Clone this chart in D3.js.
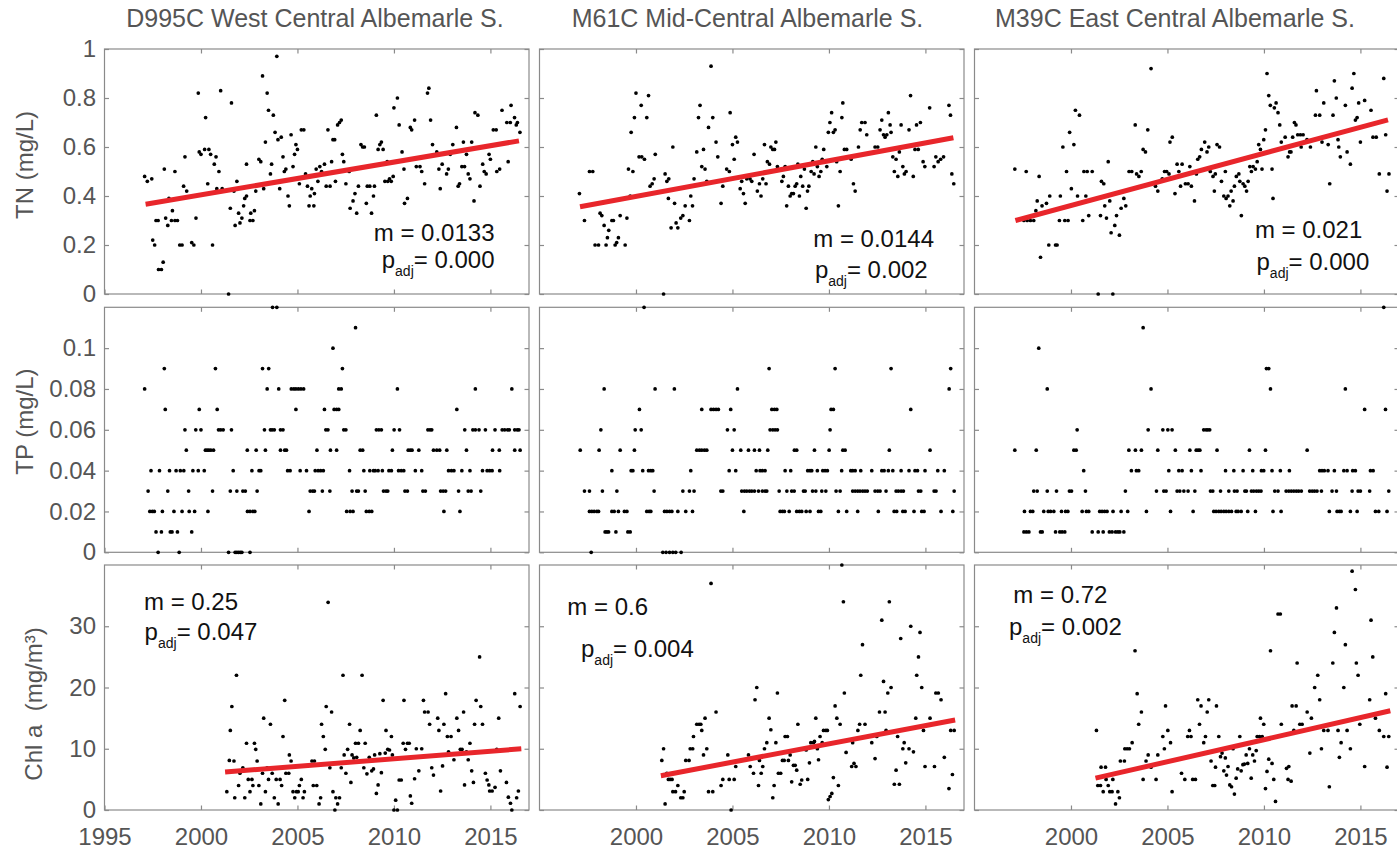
<!DOCTYPE html>
<html>
<head>
<meta charset="utf-8">
<script src="https://cdn.jsdelivr.net/npm/d3@7"></script>
<style>
body { margin: 0; background: #fff; }
text { font-family: "Liberation Sans", Arial, sans-serif; }
</style>
</head>
<body>
<svg id="chart" width="1397" height="849"></svg>
<script>
// stations (columns) and variables (rows)
var stations = ["D995C West Central Albemarle S.", "M61C Mid-Central Albemarle S.", "M39C East Central Albemarle S."];
var variables = ["TN (mg/L)", "TP (mg/L)", "Chl a  (mg/m\u00b3)"];

// tick values
var xTicks = [1995, 2000, 2005, 2010, 2015];
var tnTicks = [0, 0.2, 0.4, 0.6, 0.8, 1];
var tpTicks = [0, 0.02, 0.04, 0.06, 0.08, 0.1];
var chlTicks = [0, 10, 20, 30];

// TN samples [year, mg/L]
var tnD995C = [[1997.08,0.48],[1997.22,0.46],[1997.45,0.47],[1997.5,0.22],[1997.6,0.20],[1997.67,0.30],[1997.78,0.30],[1997.8,0.10],[1997.95,0.10],[1998.04,0.13],[1998.1,0.51],[1998.17,0.31],[1998.28,0.28],[1998.34,0.39],[1998.47,0.30],[1998.52,0.34],[1998.65,0.30],[1998.78,0.30],[1998.65,0.50],[1998.9,0.20],[1999.02,0.20],[1999.1,0.44],[1999.17,0.56],[1999.26,0.42],[1999.52,0.21],[1999.63,0.20],[1999.74,0.31],[1999.86,0.82],[1999.91,0.58],[2000.0,0.57],[2000.19,0.59],[2000.24,0.72],[2000.35,0.45],[2000.41,0.59],[2000.5,0.57],[2000.6,0.20],[2000.69,0.53],[2000.78,0.56],[2000.82,0.43],[2000.93,0.50],[2001.02,0.83],[2001.1,0.43],[2001.43,0.00],[2001.52,0.35],[2001.58,0.78],[2001.71,0.42],[2001.77,0.28],[2001.86,0.46],[2001.95,0.33],[2002.02,0.29],[2002.12,0.31],[2002.21,0.36],[2002.27,0.39],[2002.36,0.40],[2002.36,0.53],[2002.54,0.30],[2002.69,0.30],[2002.58,0.33],[2002.77,0.34],[2002.84,0.42],[2003.0,0.55],[2003.1,0.54],[2003.19,0.89],[2003.25,0.43],[2003.34,0.62],[2003.43,0.82],[2003.5,0.75],[2003.6,0.49],[2003.66,0.53],[2003.75,0.73],[2003.84,0.66],[2003.93,0.97],[2003.99,0.63],[2004.08,0.43],[2004.16,0.64],[2004.25,0.56],[2004.32,0.50],[2004.4,0.51],[2004.51,0.40],[2004.58,0.36],[2004.67,0.65],[2004.77,0.52],[2004.85,0.57],[2004.92,0.61],[2005.0,0.59],[2005.1,0.45],[2005.2,0.67],[2005.33,0.67],[2005.42,0.49],[2005.52,0.44],[2005.6,0.36],[2005.85,0.36],[2005.66,0.40],[2005.74,0.43],[2005.88,0.41],[2005.97,0.51],[2006.06,0.46],[2006.16,0.52],[2006.25,0.50],[2006.4,0.53],[2006.49,0.44],[2006.69,0.44],[2006.58,0.67],[2006.77,0.54],[2006.84,0.63],[2006.93,0.63],[2006.97,0.46],[2007.08,0.69],[2007.18,0.70],[2007.27,0.71],[2007.33,0.57],[2007.4,0.54],[2007.51,0.45],[2007.68,0.50],[2007.73,0.35],[2007.88,0.38],[2007.98,0.41],[2008.07,0.33],[2008.16,0.44],[2008.29,0.61],[2008.38,0.60],[2008.47,0.60],[2008.57,0.37],[2008.62,0.44],[2008.75,0.44],[2008.84,0.33],[2008.94,0.40],[2008.99,0.44],[2009.09,0.73],[2009.18,0.59],[2009.27,0.61],[2009.35,0.62],[2009.44,0.59],[2009.53,0.46],[2009.68,0.46],[2009.65,0.54],[2009.77,0.47],[2009.86,0.46],[2009.96,0.48],[2010.0,0.76],[2010.18,0.80],[2010.27,0.69],[2010.42,0.58],[2010.52,0.51],[2010.55,0.37],[2010.7,0.39],[2010.85,0.68],[2010.92,0.67],[2011.07,0.71],[2011.16,0.52],[2011.35,0.52],[2011.44,0.50],[2011.59,0.45],[2011.74,0.82],[2011.81,0.84],[2011.9,0.71],[2012.0,0.61],[2012.22,0.58],[2012.33,0.51],[2012.4,0.43],[2012.5,0.53],[2012.73,0.49],[2012.82,0.51],[2012.92,0.57],[2013.05,0.61],[2013.24,0.68],[2013.33,0.44],[2013.4,0.45],[2013.52,0.52],[2013.6,0.62],[2013.66,0.52],[2013.76,0.57],[2013.85,0.49],[2013.94,0.47],[2014.03,0.62],[2014.15,0.38],[2014.2,0.74],[2014.35,0.73],[2014.46,0.44],[2014.6,0.53],[2014.68,0.50],[2014.78,0.49],[2014.93,0.57],[2015.0,0.55],[2015.15,0.67],[2015.3,0.67],[2015.33,0.50],[2015.48,0.51],[2015.6,0.75],[2015.92,0.54],[2015.85,0.70],[2016.03,0.70],[2016.07,0.77],[2016.25,0.72],[2016.34,0.69],[2016.4,0.70],[2016.53,0.66]];

var tnM61C = [[1997.07,0.41],[1997.33,0.30],[1997.59,0.50],[1997.76,0.50],[1997.88,0.20],[1998.06,0.20],[1998.14,0.33],[1998.23,0.32],[1998.35,0.28],[1998.45,0.20],[1998.52,0.23],[1998.59,0.26],[1998.75,0.30],[1998.83,0.30],[1998.92,0.20],[1999.0,0.21],[1999.09,0.23],[1999.18,0.32],[1999.44,0.20],[1999.53,0.31],[1999.61,0.51],[1999.84,0.50],[1999.7,0.40],[1999.75,0.66],[1999.92,0.72],[2000.0,0.82],[2000.16,0.56],[2000.3,0.56],[2000.44,0.55],[2000.27,0.77],[2000.56,0.72],[2000.65,0.81],[2000.73,0.44],[2000.84,0.45],[2000.94,0.47],[2001.0,0.57],[2001.43,0.00],[2001.51,0.49],[2001.6,0.46],[2001.7,0.47],[2001.68,0.39],[2001.82,0.27],[2001.91,0.60],[2002.0,0.37],[2002.08,0.29],[2002.17,0.27],[2002.32,0.31],[2002.43,0.32],[2002.55,0.36],[2002.77,0.30],[2002.84,0.40],[2002.93,0.36],[2003.01,0.47],[2003.15,0.58],[2003.24,0.72],[2003.32,0.77],[2003.41,0.52],[2003.58,0.51],[2003.5,0.59],[2003.67,0.46],[2003.76,0.68],[2003.89,0.93],[2003.98,0.72],[2004.15,0.62],[2004.24,0.56],[2004.41,0.37],[2004.5,0.44],[2004.7,0.51],[2004.84,0.50],[2004.88,0.74],[2005.0,0.61],[2005.09,0.55],[2005.17,0.64],[2005.26,0.62],[2005.4,0.43],[2005.48,0.46],[2005.57,0.41],[2005.66,0.37],[2005.74,0.47],[2005.91,0.47],[2006.0,0.46],[2006.12,0.57],[2006.29,0.42],[2006.4,0.45],[2006.48,0.40],[2006.57,0.47],[2006.66,0.61],[2006.74,0.45],[2006.81,0.54],[2006.92,0.53],[2006.99,0.60],[2007.09,0.59],[2007.18,0.59],[2007.25,0.62],[2007.33,0.52],[2007.56,0.46],[2007.64,0.48],[2007.73,0.52],[2007.81,0.36],[2007.9,0.44],[2007.99,0.40],[2008.07,0.41],[2008.16,0.41],[2008.25,0.44],[2008.33,0.45],[2008.39,0.53],[2008.47,0.40],[2008.54,0.48],[2008.64,0.44],[2008.73,0.51],[2008.82,0.35],[2008.89,0.42],[2008.96,0.44],[2009.08,0.50],[2009.16,0.54],[2009.23,0.49],[2009.32,0.60],[2009.4,0.52],[2009.49,0.48],[2009.58,0.50],[2009.65,0.55],[2009.73,0.59],[2009.89,0.52],[2009.97,0.66],[2010.05,0.70],[2010.14,0.74],[2010.23,0.66],[2010.32,0.67],[2010.4,0.54],[2010.49,0.36],[2010.58,0.50],[2010.67,0.72],[2010.72,0.78],[2010.8,0.59],[2010.92,0.59],[2011.15,0.55],[2011.27,0.45],[2011.36,0.42],[2011.53,0.60],[2011.62,0.67],[2011.7,0.70],[2011.87,0.70],[2011.96,0.65],[2012.39,0.60],[2012.53,0.60],[2012.65,0.67],[2012.74,0.71],[2012.83,0.65],[2012.91,0.64],[2013.0,0.65],[2013.08,0.74],[2013.17,0.69],[2013.22,0.66],[2013.31,0.56],[2013.39,0.50],[2013.48,0.55],[2013.57,0.48],[2013.65,0.58],[2013.74,0.69],[2013.83,0.52],[2013.91,0.49],[2014.0,0.50],[2014.15,0.67],[2014.23,0.81],[2014.37,0.48],[2014.46,0.59],[2014.63,0.59],[2014.54,0.69],[2014.74,0.70],[2014.88,0.54],[2014.97,0.52],[2015.22,0.76],[2015.45,0.52],[2015.54,0.56],[2015.66,0.54],[2015.79,0.55],[2015.94,0.56],[2016.22,0.77],[2016.3,0.73],[2016.37,0.49],[2016.47,0.45]];

var tnM39C = [[1997.09,0.51],[1997.68,0.50],[1997.56,0.30],[1997.73,0.30],[1997.9,0.30],[1998.07,0.30],[1998.18,0.34],[1998.25,0.38],[1998.35,0.48],[1998.42,0.15],[1998.5,0.36],[1998.73,0.37],[1998.85,0.20],[1999.2,0.20],[1999.28,0.20],[1998.9,0.40],[1999.4,0.30],[1999.45,0.40],[1999.58,0.60],[1999.68,0.30],[1999.85,0.30],[1999.77,0.50],[1999.93,0.66],[2000.02,0.43],[2000.15,0.61],[2000.23,0.75],[2000.34,0.40],[2000.44,0.73],[2000.61,0.30],[2000.67,0.50],[2000.84,0.50],[2001.1,0.50],[2000.77,0.40],[2000.92,0.32],[2001.53,0.32],[2001.58,0.46],[2001.7,0.45],[2001.75,0.36],[2001.84,0.31],[2001.93,0.54],[2002.01,0.38],[2002.08,0.25],[2002.27,0.28],[2002.36,0.32],[2002.51,0.24],[2002.6,0.35],[2002.74,0.39],[2002.84,0.36],[2003.01,0.50],[2003.15,0.50],[2003.33,0.69],[2003.4,0.49],[2003.52,0.48],[2003.64,0.50],[2001.41,0.0],[2002.17,0.0],[2003.74,0.59],[2003.86,0.58],[2003.98,0.67],[2004.15,0.92],[2004.38,0.44],[2004.5,0.42],[2004.73,0.47],[2004.85,0.50],[2004.96,0.50],[2005.08,0.49],[2005.13,0.62],[2005.25,0.64],[2005.39,0.41],[2005.5,0.53],[2005.76,0.53],[2005.59,0.50],[2005.68,0.44],[2005.93,0.45],[2006.07,0.45],[2006.16,0.52],[2006.24,0.44],[2006.4,0.38],[2006.5,0.49],[2006.57,0.55],[2006.67,0.56],[2006.76,0.59],[2006.93,0.62],[2007.05,0.58],[2007.14,0.60],[2007.22,0.50],[2007.36,0.48],[2007.43,0.42],[2007.48,0.49],[2007.57,0.61],[2007.7,0.60],[2007.8,0.46],[2007.92,0.40],[2008.0,0.50],[2008.04,0.39],[2008.14,0.40],[2008.23,0.36],[2008.3,0.42],[2008.4,0.38],[2008.47,0.44],[2008.57,0.48],[2008.7,0.49],[2008.75,0.46],[2008.83,0.32],[2008.92,0.45],[2009.01,0.44],[2009.1,0.42],[2009.18,0.46],[2009.27,0.52],[2009.35,0.50],[2009.44,0.52],[2009.56,0.51],[2009.65,0.54],[2009.73,0.61],[2009.82,0.59],[2009.9,0.51],[2009.99,0.63],[2010.08,0.67],[2010.16,0.90],[2010.25,0.81],[2010.33,0.77],[2010.42,0.51],[2010.47,0.39],[2010.54,0.76],[2010.63,0.78],[2010.73,0.74],[2010.82,0.69],[2010.9,0.62],[2011.1,0.64],[2011.25,0.56],[2011.33,0.58],[2011.4,0.58],[2011.49,0.64],[2011.58,0.70],[2011.66,0.69],[2011.75,0.65],[2011.89,0.65],[2012.03,0.65],[2011.93,0.60],[2012.23,0.63],[2012.41,0.60],[2012.72,0.83],[2012.67,0.73],[2012.89,0.73],[2013.01,0.62],[2013.1,0.78],[2013.33,0.61],[2013.41,0.45],[2013.58,0.73],[2013.65,0.87],[2013.75,0.80],[2013.84,0.63],[2013.88,0.60],[2013.96,0.56],[2014.22,0.77],[2014.31,0.58],[2014.48,0.53],[2014.57,0.84],[2014.66,0.90],[2014.74,0.71],[2014.83,0.72],[2014.91,0.78],[2015.0,0.62],[2015.22,0.79],[2015.55,0.75],[2015.65,0.64],[2015.82,0.64],[2015.98,0.49],[2016.21,0.88],[2016.31,0.65],[2016.38,0.42],[2016.48,0.49]];

// TP samples [mg/L level, [years]]
var tpD995C = [
  [0.12, [2003.71,2003.93]],
  [0.11, [2008.01]],
  [0.10, [2006.84]],
  [0.09, [1998.10,2000.75,2003.19,2003.51,2007.33]],
  [0.08, [1997.08,2003.43,2004.03,2004.68,2004.81,2004.92,2005.05,2005.18,2005.32,2007.14,2007.27,2010.18,2014.22,2016.11]],
  [0.07, [1998.15,1999.91,2000.84,2004.92,2006.40,2006.90,2007.03,2007.14,2013.26]],
  [0.06, [1999.17,1999.73,2000.00,2000.91,2001.02,2001.15,2001.58,2003.29,2003.60,2003.69,2003.80,2004.12,2004.25,2006.47,2006.58,2007.40,2007.51,2009.09,2009.22,2009.35,2010.01,2010.29,2011.76,2011.87,2011.96,2013.67,2014.09,2014.22,2014.41,2014.74,2015.24,2015.61,2015.74,2015.89,2015.98,2016.26,2016.39,2016.48]],
  [0.05, [1999.24,2000.23,2000.32,2000.41,2000.51,2000.65,2002.40,2002.86,2003.34,2004.12,2004.34,2004.43,2006.01,2006.71,2007.03,2008.25,2008.38,2009.92,2010.74,2010.85,2010.94,2011.29,2012.05,2012.22,2012.37,2012.74,2013.76,2015.11,2015.46,2016.26,2016.54]],
  [0.04, [1997.41,1997.85,1998.37,1998.71,1998.93,1999.11,1999.58,1999.86,2000.17,2001.67,2002.64,2003.01,2003.10,2004.49,2004.62,2005.14,2005.47,2005.92,2006.07,2006.20,2006.34,2007.70,2008.44,2008.75,2008.94,2009.03,2009.18,2009.40,2009.74,2009.87,2010.24,2010.38,2010.51,2011.11,2011.44,2012.83,2012.98,2013.11,2013.52,2013.94,2014.59,2014.83,2014.96,2015.09,2015.48]],
  [0.03, [1997.26,1998.28,1999.36,2000.60,2001.52,2001.86,2002.17,2002.30,2002.91,2005.66,2005.79,2005.88,2006.29,2006.68,2007.83,2008.07,2008.16,2008.51,2009.46,2009.59,2009.68,2010.57,2010.70,2011.50,2011.63,2012.42,2012.55,2012.68,2013.35,2013.85,2014.00,2014.50]],
  [0.02, [1997.35,1997.48,1997.58,1998.00,1998.60,1999.02,1999.39,1999.67,2000.36,2002.41,2002.54,2002.69,2002.79,2005.60,2007.55,2007.73,2007.88,2008.57,2008.72,2008.85,2012.59,2013.42]],
  [0.01, [1997.67,1997.95,1998.41,1998.50,1998.78,1999.52]],
  [0, [1997.78,1998.87,2001.43,2001.77,2001.86,2001.95,2002.04,2002.12,2002.54]]
];

var tpM61C = [
  [0.12, [2000.42]],
  [0.09, [2006.90,2010.32,2013.22,2016.31]],
  [0.08, [1998.35,2000.99,2001.99,2005.26,2016.23]],
  [0.07, [2000.18,2003.41,2003.89,2004.02,2004.15,2004.27,2004.91,2007.04,2007.18,2007.30,2010.11,2010.23,2014.24]],
  [0.06, [1998.18,1999.96,2000.27,2004.74,2005.09,2006.95,2007.09,2007.21,2007.33,2010.06]],
  [0.05, [1997.11,1998.09,1999.18,1999.92,2003.15,2003.29,2003.41,2003.55,2003.67,2005.00,2005.43,2005.83,2006.14,2006.40,2006.83,2008.21,2008.33,2009.25,2010.01,2010.72,2010.84,2013.13,2015.24]],
  [0.04, [1998.75,1999.75,1999.84,2000.35,2000.65,2000.77,2000.87,2002.84,2004.83,2005.17,2006.23,2006.43,2006.55,2006.69,2007.73,2008.02,2008.90,2009.02,2009.11,2009.40,2009.68,2009.80,2009.92,2010.66,2011.13,2011.23,2011.36,2011.65,2012.22,2012.74,2012.86,2013.08,2013.31,2013.74,2014.15,2014.46,2014.59,2014.98,2015.64,2015.98]],
  [0.03, [1997.33,1997.59,1998.26,1999.01,2000.94,2002.43,2002.77,2003.01,2004.40,2004.50,2005.48,2005.62,2005.74,2005.88,2006.00,2006.14,2006.35,2006.55,2006.69,2006.78,2007.42,2007.82,2008.07,2008.20,2008.68,2008.77,2009.15,2009.32,2009.63,2009.84,2010.37,2010.58,2011.23,2011.36,2011.49,2011.61,2011.75,2011.87,2011.99,2012.39,2012.53,2012.65,2012.96,2013.48,2013.60,2013.74,2013.86,2014.64,2014.76,2015.45,2015.55,2016.49]],
  [0.02, [1997.59,1997.71,1997.83,1997.97,1998.06,1998.75,1998.87,1999.09,1999.40,1999.53,2000.56,2000.68,2000.77,2001.48,2001.60,2001.74,2001.86,2002.17,2002.58,2002.93,2005.59,2007.47,2007.59,2007.69,2007.94,2008.33,2008.47,2008.59,2008.82,2009.02,2009.46,2009.58,2010.49,2010.92,2011.49,2012.56,2013.38,2013.51,2013.83,2013.95,2014.41,2014.81,2014.93,2015.81,2016.42]],
  [0.01, [1998.40,1998.49,1998.58,1998.96,1999.58,1999.70]],
  [0, [1997.68,2001.39,2001.56,2001.74,2001.91,2002.06,2002.34]]
];

var tpM39C = [
  [0.12, [2016.21]],
  [0.11, [2003.74]],
  [0.10, [1998.33]],
  [0.09, [2010.13,2010.25]],
  [0.08, [1998.77,2004.15,2010.34,2014.22]],
  [0.07, [2015.22,2016.30]],
  [0.06, [2000.32,2004.00,2004.76,2005.02,2005.24,2006.88,2007.00,2007.09,2007.19]],
  [0.05, [1997.09,1998.20,2000.15,2000.27,2003.00,2003.34,2003.65,2004.50,2005.41,2006.16,2006.49,2006.59,2006.68,2007.57,2009.25,2010.08,2012.24]],
  [0.04, [2000.66,2003.13,2003.39,2003.51,2005.07,2005.59,2005.76,2006.24,2006.74,2008.01,2008.44,2008.92,2009.42,2009.87,2009.99,2010.42,2010.85,2011.32,2012.89,2013.01,2013.13,2013.32,2013.65,2014.14,2014.31,2014.60,2014.74,2015.52,2015.66]],
  [0.03, [1998.07,1998.25,1998.77,1999.25,1999.92,2000.03,2000.75,2002.82,2004.43,2004.81,2004.93,2005.50,2005.64,2005.85,2006.07,2006.42,2007.23,2007.35,2007.75,2008.18,2008.47,2008.61,2009.01,2009.09,2009.35,2009.47,2009.61,2009.73,2009.85,2010.56,2010.73,2011.15,2011.29,2011.42,2011.55,2011.68,2011.80,2011.94,2012.37,2012.50,2012.62,2012.75,2012.98,2013.53,2013.76,2014.57,2014.88,2015.00,2015.48,2016.47]],
  [0.02, [1997.59,1997.90,1998.02,1998.59,1998.82,1998.94,1999.11,1999.51,1999.72,1999.84,2000.58,2000.80,2000.92,2001.49,2001.61,2001.74,2001.87,2002.18,2002.60,2002.94,2003.91,2005.16,2006.33,2007.40,2007.52,2007.66,2007.78,2007.92,2008.04,2008.18,2008.32,2008.56,2008.66,2008.82,2009.16,2009.56,2010.47,2010.89,2013.39,2013.79,2013.91,2014.00,2014.48,2014.83,2015.78,2015.95,2016.38]],
  [0.01, [1997.56,1997.69,1997.82,1998.42,1998.51,1999.20,1999.42,1999.54,1999.68,2001.10,2001.41,2001.67,2001.99,2002.13,2002.31,2002.43,2002.53,2002.74]]
];

// Chl a samples [year, mg/m3]
var chlD995C = [[2001.34,3.0],[2001.47,8.1],[2001.71,8.0],[2001.52,13.0],[2001.6,16.9],[2001.75,2.0],[2001.84,22.0],[2001.95,4.0],[2002.02,6.0],[2002.17,6.9],[2002.27,2.0],[2002.36,10.9],[2002.45,5.0],[2002.64,5.0],[2002.54,3.0],[2002.69,4.0],[2002.77,10.9],[2002.84,9.9],[2002.91,8.0],[2003.0,4.0],[2003.1,1.0],[2003.19,6.0],[2003.25,15.0],[2003.34,3.0],[2003.43,6.9],[2003.5,5.0],[2003.6,14.0],[2003.69,6.0],[2003.8,2.0],[2003.9,5.0],[2004.1,5.0],[2004.0,1.0],[2004.18,4.0],[2004.25,12.0],[2004.34,17.9],[2004.4,6.0],[2004.55,6.0],[2004.58,9.0],[2004.67,8.0],[2004.77,3.0],[2004.95,3.0],[2005.04,3.0],[2004.86,2.0],[2005.1,4.0],[2005.2,5.0],[2005.29,2.0],[2005.36,3.0],[2005.75,8.0],[2005.88,8.0],[2005.82,4.0],[2006.0,4.0],[2006.12,1.0],[2006.2,2.0],[2006.25,14.0],[2006.34,12.0],[2006.44,9.9],[2006.49,16.9],[2006.59,33.9],[2006.68,6.9],[2006.77,16.0],[2006.84,3.0],[2006.94,0.0],[2006.99,2.0],[2007.18,2.0],[2007.08,1.0],[2007.27,6.9],[2007.36,22.0],[2007.42,9.0],[2007.51,6.0],[2007.6,9.9],[2007.7,14.0],[2007.77,4.5],[2007.83,9.0],[2007.92,8.5],[2008.01,10.9],[2008.16,10.9],[2008.07,8.6],[2008.25,13.0],[2008.35,22.0],[2008.44,6.9],[2008.51,10.9],[2008.6,5.9],[2008.72,8.6],[2008.85,6.4],[2008.94,6.7],[2009.0,9.0],[2009.09,2.7],[2009.18,4.1],[2009.27,9.2],[2009.35,6.1],[2009.44,17.9],[2009.55,9.3],[2009.59,13.0],[2009.68,9.9],[2009.77,9.8],[2009.87,12.0],[2009.92,9.0],[2010.0,0.0],[2010.18,0.0],[2010.09,1.6],[2010.27,4.9],[2010.38,4.9],[2010.48,10.9],[2010.52,17.9],[2010.6,9.9],[2010.7,10.9],[2010.79,10.9],[2010.85,2.3],[2010.92,1.1],[2011.07,5.1],[2011.16,10.0],[2011.44,10.0],[2011.29,6.4],[2011.53,17.9],[2011.59,16.0],[2011.77,16.0],[2011.85,14.0],[2011.96,6.9],[2012.05,5.7],[2012.27,15.0],[2012.33,13.0],[2012.42,3.1],[2012.52,7.2],[2012.59,14.0],[2012.68,19.0],[2012.77,12.0],[2012.96,12.0],[2012.83,9.5],[2013.11,8.2],[2013.26,15.0],[2013.35,13.0],[2013.44,9.9],[2013.53,9.9],[2013.61,16.0],[2013.66,4.1],[2013.76,9.5],[2013.85,8.2],[2013.94,10.9],[2014.03,6.4],[2014.12,4.5],[2014.18,14.0],[2014.26,17.9],[2014.44,25.0],[2014.5,16.9],[2014.59,14.0],[2014.74,6.0],[2014.83,4.9],[2014.92,4.1],[2014.96,3.1],[2015.09,3.1],[2015.24,3.7],[2015.33,9.9],[2015.43,15.0],[2015.52,6.4],[2015.83,4.5],[2015.93,2.1],[2016.04,1.1],[2016.11,0.0],[2016.26,19.0],[2016.36,2.0],[2016.45,3.1],[2016.54,16.9]];

var chlM61C = [[2001.34,8.1],[2001.43,10.0],[2001.51,1.0],[2001.6,6.0],[2001.68,5.0],[2001.77,5.0],[2001.87,5.0],[2001.91,3.0],[2002.05,3.0],[2002.17,4.0],[2002.32,2.0],[2002.43,2.0],[2002.5,3.0],[2002.58,8.1],[2002.75,8.1],[2002.81,10.0],[2002.94,10.0],[2002.98,12.0],[2003.15,14.0],[2003.27,14.0],[2003.36,14.0],[2003.41,13.0],[2003.5,9.0],[2003.58,15.0],[2003.67,10.0],[2003.76,3.0],[2003.98,3.0],[2003.89,37.0],[2004.15,16.0],[2004.41,4.0],[2004.5,5.0],[2004.76,9.0],[2004.83,5.0],[2005.09,5.0],[2004.93,0.0],[2005.17,7.1],[2005.83,9.0],[2005.92,7.1],[2006.09,6.0],[2006.17,18.0],[2006.26,20.0],[2006.35,4.0],[2006.4,8.1],[2006.49,6.0],[2006.57,7.1],[2006.66,10.0],[2006.78,11.0],[2006.9,15.0],[2006.99,13.1],[2007.09,2.0],[2007.16,4.0],[2007.25,11.0],[2007.33,19.1],[2007.38,6.0],[2007.5,6.0],[2007.59,8.1],[2007.68,8.1],[2007.73,12.0],[2007.85,12.0],[2007.9,8.1],[2007.99,9.0],[2008.07,4.6],[2008.16,7.3],[2008.25,7.3],[2008.33,6.5],[2008.39,14.0],[2008.51,4.2],[2008.59,4.9],[2008.73,10.0],[2008.82,9.8],[2008.9,5.0],[2008.99,7.7],[2009.06,11.0],[2009.2,11.0],[2009.25,11.2],[2009.32,15.0],[2009.4,10.0],[2009.46,8.2],[2009.54,12.0],[2009.65,11.0],[2009.72,13.0],[2009.84,13.0],[2009.92,13.0],[2009.97,1.7],[2010.06,2.2],[2010.15,2.7],[2010.23,5.3],[2010.32,17.0],[2010.41,15.0],[2010.49,4.0],[2010.58,14.0],[2010.67,40.0],[2010.75,34.0],[2010.8,19.1],[2010.89,9.4],[2011.18,7.1],[2011.23,11.0],[2011.3,7.6],[2011.4,7.1],[2011.5,13.0],[2011.59,14.0],[2011.65,22.0],[2011.74,27.0],[2011.87,14.0],[2012.22,11.0],[2012.39,8.4],[2012.48,12.0],[2012.62,16.0],[2012.91,16.0],[2012.74,31.0],[2012.83,21.0],[2012.96,13.0],[2013.05,19.1],[2013.13,34.0],[2013.22,20.0],[2013.48,6.5],[2013.39,4.2],[2013.65,4.2],[2013.56,12.0],[2013.72,28.0],[2013.83,10.0],[2013.9,11.0],[2013.98,7.7],[2014.15,10.0],[2014.24,30.0],[2014.38,9.5],[2014.5,15.0],[2014.55,22.0],[2014.64,25.0],[2014.72,29.0],[2014.81,20.0],[2014.9,13.0],[2014.98,7.1],[2015.24,15.0],[2015.47,7.1],[2015.54,19.1],[2015.67,19.1],[2015.81,18.0],[2015.98,8.6],[2016.22,3.5],[2016.31,13.0],[2016.49,13.0],[2016.4,5.8]];

var chlM39C = [[2001.32,13.0],[2001.39,4.0],[2001.53,4.0],[2001.56,7.0],[2001.79,7.0],[2001.67,3.0],[2001.82,5.0],[2001.93,4.0],[2002.01,3.0],[2002.13,3.0],[2002.17,5.0],[2002.31,1.0],[2002.43,3.0],[2002.51,2.0],[2002.56,8.0],[2002.77,8.0],[2002.79,10.0],[2002.91,10.0],[2003.03,10.0],[2003.17,11.0],[2003.32,26.0],[2003.43,19.0],[2003.51,14.0],[2003.65,16.0],[2003.74,5.0],[2003.89,8.0],[2004.0,9.0],[2004.15,7.0],[2004.41,5.0],[2004.5,9.0],[2004.76,12.0],[2004.84,10.0],[2004.9,17.0],[2005.02,13.0],[2005.16,11.0],[2005.24,3.0],[2005.73,6.0],[2005.9,5.0],[2006.05,12.0],[2006.22,12.0],[2006.14,13.0],[2006.31,5.0],[2006.45,5.0],[2006.57,18.0],[2006.66,14.0],[2006.74,17.0],[2006.88,11.0],[2006.97,12.0],[2007.06,16.0],[2007.14,18.0],[2007.26,8.0],[2007.35,4.0],[2007.45,4.0],[2007.49,7.0],[2007.54,17.0],[2007.66,12.0],[2007.75,8.7],[2007.83,9.3],[2007.92,6.4],[2008.0,8.5],[2008.06,5.7],[2008.14,7.1],[2008.23,4.1],[2008.32,3.8],[2008.4,10.0],[2008.47,2.6],[2008.56,5.2],[2008.64,6.7],[2008.75,12.0],[2008.82,6.4],[2008.91,7.4],[2008.99,7.5],[2009.08,9.0],[2009.16,7.6],[2009.25,10.0],[2009.34,5.2],[2009.42,9.0],[2009.51,8.0],[2009.6,9.7],[2009.65,12.0],[2009.77,12.0],[2009.91,12.0],[2009.82,15.0],[2009.99,14.0],[2010.08,3.5],[2010.16,6.3],[2010.25,8.3],[2010.34,26.0],[2010.42,7.6],[2010.51,5.0],[2010.6,1.4],[2010.73,32.0],[2010.85,32.0],[2010.9,14.0],[2011.17,6.8],[2011.29,7.1],[2011.25,5.0],[2011.41,4.7],[2011.46,17.0],[2011.67,17.0],[2011.55,13.0],[2011.72,24.0],[2011.86,14.0],[2011.98,14.0],[2012.24,16.0],[2012.38,9.3],[2012.46,15.0],[2012.63,20.0],[2012.79,22.0],[2012.89,18.0],[2012.98,10.0],[2013.1,13.0],[2013.32,13.0],[2013.39,3.8],[2013.57,24.0],[2013.65,29.0],[2013.76,33.0],[2013.84,13.0],[2013.91,8.6],[2014.0,11.0],[2014.14,20.0],[2014.22,27.0],[2014.31,13.0],[2014.48,10.0],[2014.57,39.0],[2014.74,36.0],[2014.79,24.0],[2014.88,22.0],[2014.97,14.0],[2015.22,7.1],[2015.48,18.0],[2015.55,31.0],[2015.64,25.0],[2015.78,15.0],[2015.98,13.0],[2016.21,12.0],[2016.31,19.0],[2016.38,7.0],[2016.47,12.0]];

// trend lines [year0, value0, year1, value1], row-major (TP has none)
var trends = [
  [1997.13, 0.366, 2016.48, 0.625], [1997.10, 0.356, 2016.45, 0.638], [1997.12, 0.300, 2016.43, 0.711],
  null, null, null,
  [2001.25, 6.2, 2016.60, 10.0], [2001.29, 5.6, 2016.54, 14.7], [2001.27, 5.2, 2016.55, 16.2]
];
var slopes = ["0.0133", "0.0144", "0.021", null, null, null, "0.25", "0.6", "0.72"];
var pAdj = ["0.000", "0.002", "0.000", null, null, null, "0.047", "0.004", "0.002"];

// layout
var panelW = 424.5, panelH = 245;
var colX = [104.5, 539.5, 974.5];
var rowY = [49, 307.3, 565];
var titleX = [315, 747.5, 1175];
var ylabelPos = [[33, 165], [33, 421.5], [42, 704]];
var notePos = [
  {a: "end", mx: 390, my: 192, px: 390, py: 219},
  {a: "end", mx: 394.5, my: 197.7, px: 388.2, py: 229.3},
  {a: "end", mx: 387.8, my: 189.3, px: 394.8, py: 221},
  null, null, null,
  {a: "start", mx: 39.5, my: 45.2, px: 40.1, py: 75.3},
  {a: "start", mx: 27.8, my: 50, px: 41.5, py: 92.3},
  {a: "start", mx: 38.8, my: 38.3, px: 34.5, py: 70}
];

var axisGray = "#8a8a8a", labelGray = "#555555", red = "#e8262b";

function flatTP(rows) {
  var out = [];
  rows.forEach(function(r) { r[1].forEach(function(yr) { out.push([yr, r[0]]); }); });
  return out;
}

var panelData = [
  tnD995C, tnM61C, tnM39C,
  flatTP(tpD995C), flatTP(tpM61C), flatTP(tpM39C),
  chlD995C, chlM61C, chlM39C
];
var yDomains = [[0, 1], [0, 0.12], [0, 40]];
var yTicks = [tnTicks, tpTicks, chlTicks];

var svg = d3.select("#chart");

// column titles
svg.selectAll("text.title")
  .data(stations)
  .enter()
  .append("text")
  .attr("class", "title")
  .attr("x", function(d, i) { return titleX[i]; })
  .attr("y", 27)
  .attr("text-anchor", "middle")
  .attr("font-size", "25px")
  .attr("fill", labelGray)
  .text(function(d) { return d; });

// row labels
svg.selectAll("text.ylab")
  .data(variables)
  .enter()
  .append("text")
  .attr("class", "ylab")
  .attr("transform", function(d, i) { return "translate(" + ylabelPos[i][0] + "," + ylabelPos[i][1] + ") rotate(-90)"; })
  .attr("text-anchor", "middle")
  .attr("font-size", "24px")
  .attr("fill", labelGray)
  .style("white-space", "pre")
  .text(function(d) { return d; });

function styleAxis(g) {
  g.select(".domain").remove();
  g.attr("font-family", null).attr("font-size", null);
  g.selectAll(".tick line").attr("stroke", axisGray).attr("stroke-width", 1.2);
  g.selectAll(".tick text").attr("fill", labelGray).attr("font-size", "24px");
}

for (var r = 0; r < 3; r++) {
  for (var c = 0; c < 3; c++) {
    var k = r * 3 + c;
    var g = svg.append("g").attr("transform", "translate(" + colX[c] + "," + rowY[r] + ")");
    var x = d3.scaleLinear().domain([1995, 2017]).range([0, panelW]);
    var y = d3.scaleLinear().domain(yDomains[r]).range([panelH, 0]);

    g.append("rect")
      .attr("width", panelW)
      .attr("height", panelH)
      .attr("fill", "none")
      .attr("stroke", axisGray)
      .attr("stroke-width", 1.2);

    var bottom = d3.axisBottom(x)
      .tickValues(c === 0 ? xTicks : xTicks.slice(1))
      .tickSizeInner(-4.5).tickSizeOuter(0).tickPadding(18)
      .tickFormat(d3.format("d"));
    if (r < 2) bottom.tickFormat("");
    g.append("g").attr("transform", "translate(0," + panelH + ")").call(bottom).call(styleAxis);

    g.append("g")
      .call(d3.axisTop(x).tickValues(xTicks.slice(1)).tickSizeInner(-4.5).tickSizeOuter(0).tickFormat(""))
      .call(styleAxis);

    var left = d3.axisLeft(y).tickValues(yTicks[r]).tickSizeInner(-4.5).tickSizeOuter(0).tickPadding(8.5)
      .tickFormat(d3.format("~g"));
    if (c > 0) left.tickFormat("");
    g.append("g").call(left).call(styleAxis);

    g.append("g").attr("transform", "translate(" + panelW + ",0)")
      .call(d3.axisRight(y).tickValues(yTicks[r]).tickSizeInner(-4.5).tickSizeOuter(0).tickFormat(""))
      .call(styleAxis);

    // samples
    g.selectAll("circle")
      .data(panelData[k])
      .enter()
      .append("circle")
      .attr("cx", function(d) { return x(d[0]); })
      .attr("cy", function(d) { return y(d[1]); })
      .attr("r", 1.85)
      .attr("fill", "#000");

    // trend
    if (trends[k]) {
      var t = trends[k];
      g.append("line")
        .attr("x1", x(t[0])).attr("y1", y(t[1]))
        .attr("x2", x(t[2])).attr("y2", y(t[3]))
        .attr("stroke", red)
        .attr("stroke-width", 5);
    }

    // slope / p annotation
    if (notePos[k]) {
      var n = notePos[k];
      g.append("text")
        .attr("x", n.mx).attr("y", n.my)
        .attr("text-anchor", n.a)
        .attr("font-size", "24px")
        .attr("fill", "#111")
        .text("m = " + slopes[k]);
      var pt = g.append("text")
        .attr("x", n.px).attr("y", n.py)
        .attr("text-anchor", n.a)
        .attr("font-size", "24px")
        .attr("fill", "#111");
      pt.append("tspan").text("p");
      pt.append("tspan").attr("font-size", "14px").attr("dy", 8).text("adj");
      pt.append("tspan").attr("dy", -8).text("= " + pAdj[k]);
    }
  }
}
</script>
</body>
</html>
